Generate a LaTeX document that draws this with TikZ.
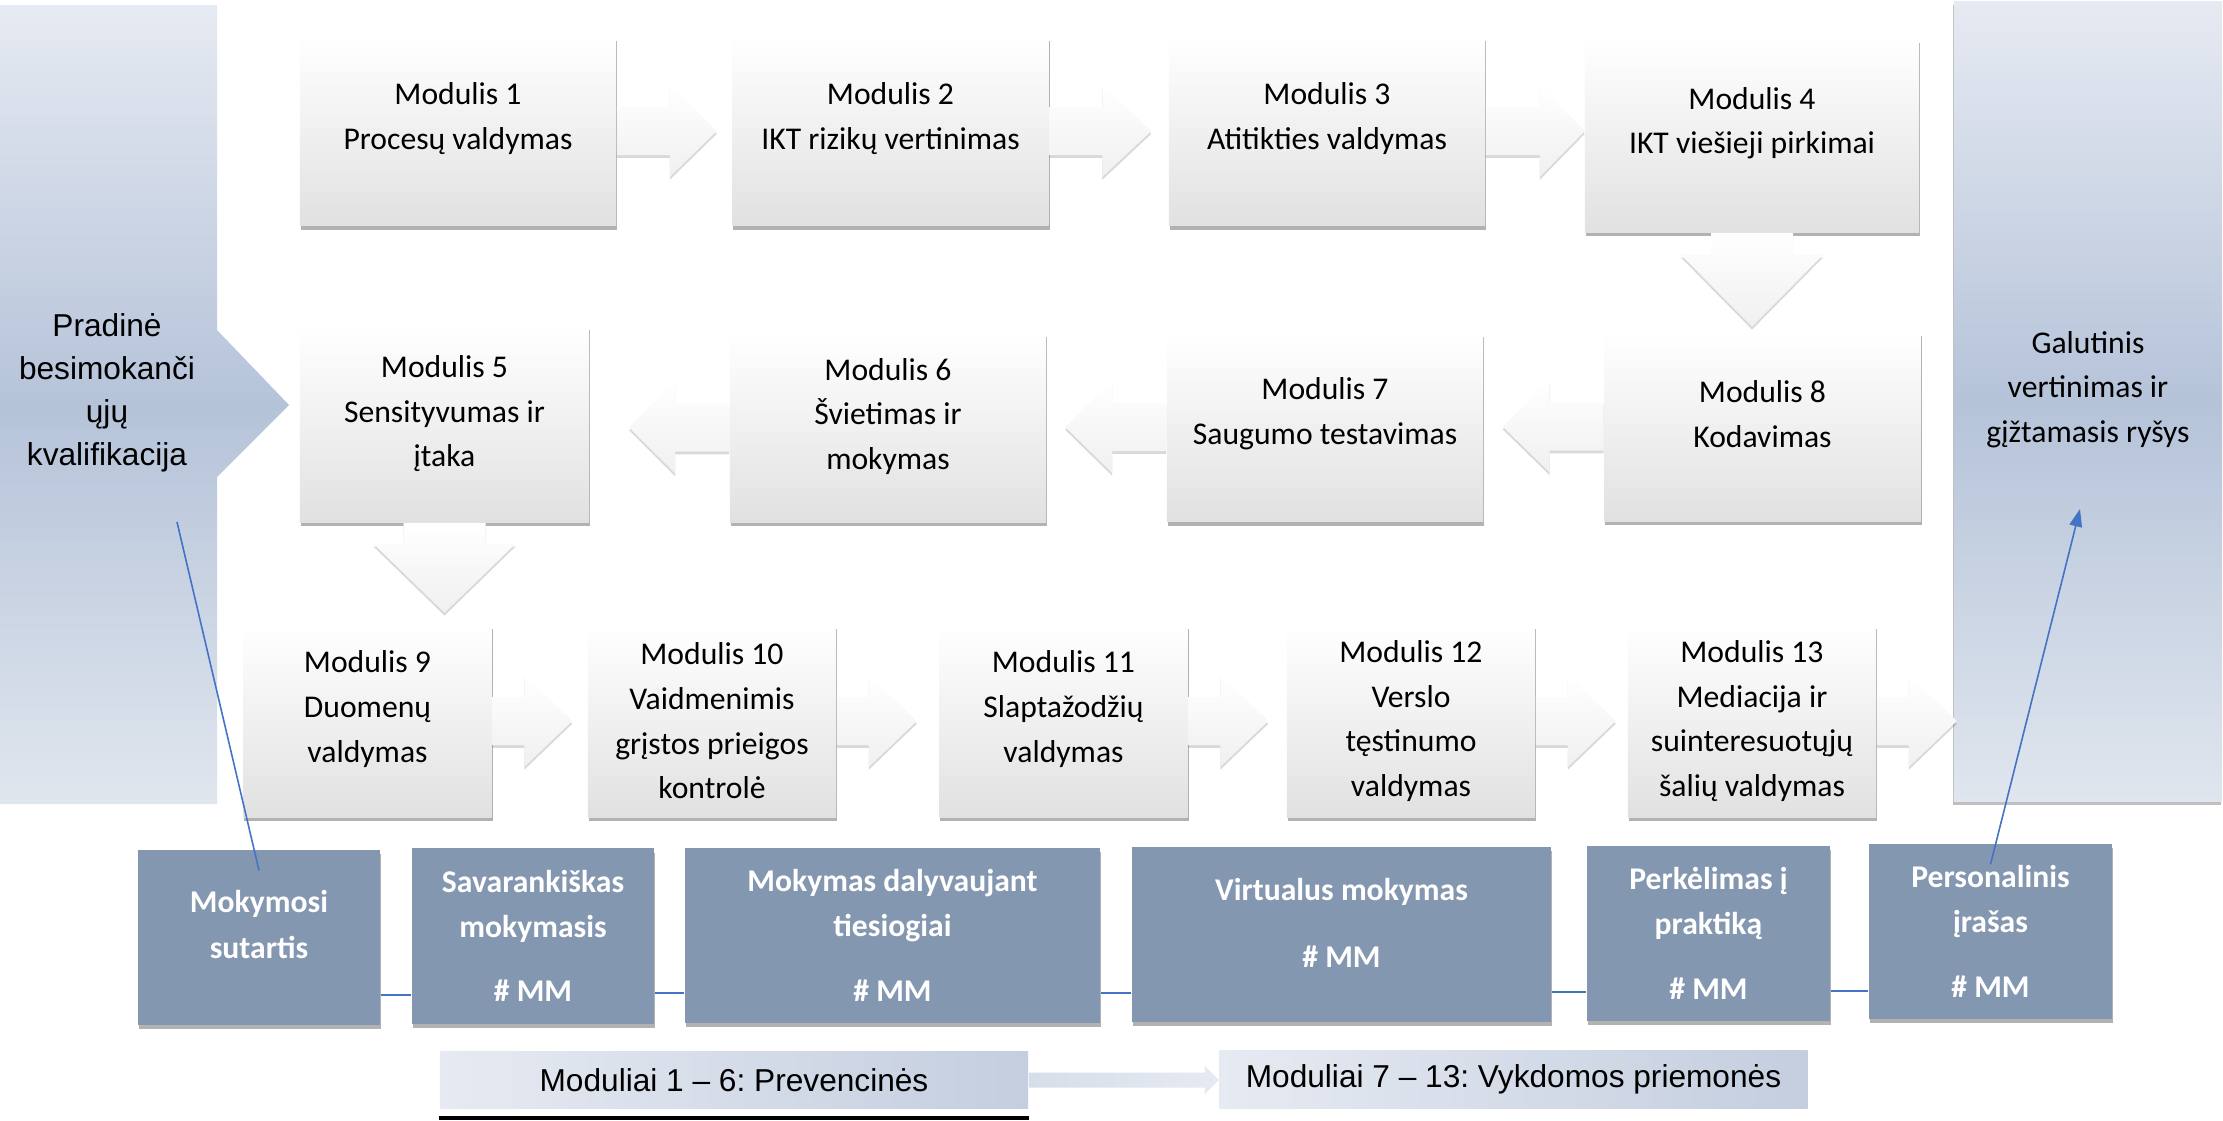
\documentclass[tikz,border=0pt]{standalone}
\usepackage{fontspec}
\setmainfont{Carlito}
\newfontfamily\arialfont{Liberation Sans}
\usetikzlibrary{calc}
\usetikzlibrary{shadows}
\usetikzlibrary{arrows.meta}
\frenchspacing

\definecolor{panelTop}{HTML}{E6EAF2}
\definecolor{panelMid}{HTML}{B5C3D9}
\definecolor{panelBot}{HTML}{E0E6EE}
\definecolor{legendRight}{HTML}{C4CEDF}
\definecolor{slate}{HTML}{8497B0}
\definecolor{wordblue}{HTML}{4472C4}
\definecolor{boxgray}{HTML}{E1E1E1}

\tikzset{
  modlabel/.style={align=center, font=\fontsize{9}{12.7}\selectfont},
  lowlabel/.style={align=center, text=white, font=\fontsize{9}{12.8}\selectfont\bfseries},
  modbox/.style 2 args={rectangle, inner sep=0pt, top color=white, bottom color=boxgray,
    drop shadow={shadow xshift=0.3pt, shadow yshift=-1.2pt, opacity=0.3, fill=black},
    minimum width=3.16cm, minimum height=1.89cm,
    label={[modlabel, yshift=#2]center:{#1}}},
  row3/.style={minimum width=2.48cm, minimum height=1.92cm},
  lowbox/.style 2 args={rectangle, inner sep=0pt, fill=slate,
    drop shadow={shadow xshift=0.3pt, shadow yshift=-1.2pt, opacity=0.3, fill=black},
    minimum width=2.42cm, minimum height=1.75cm,
    label={[lowlabel, yshift=#2]center:{#1}}},
  galbox/.style={rectangle, inner sep=0pt, top color=panelTop, bottom color=panelBot,
    middle color=panelMid,
    drop shadow={shadow xshift=-0.4pt, shadow yshift=-1pt, opacity=0.25, fill=black},
    minimum width=2.68cm, minimum height=7.99cm,
    label={[modlabel, yshift=3.4pt]center:{#1}}},
  legbox/.style={rectangle, inner sep=0pt, left color=panelTop, right color=legendRight,
    minimum width=5.88cm, minimum height=0.57cm,
    font=\arialfont\fontsize{9}{11}\selectfont},
  blockarrow/.style={top color=white, bottom color=black!6,
    drop shadow={shadow xshift=0pt, shadow yshift=-0.8pt, opacity=0.15, fill=black}},
  legarrow/.style={left color=panelMid!55!white, right color=panelTop},
  link/.style={wordblue, line width=0.45pt},
}

% block arrows: node, shaft length, head length
\newcommand{\arrowright}[3]{%
  \path[blockarrow] ($(#1.east)+(0,-24)$) -- ++(#2,0) -- ++(0,-22) -- ++(#3,46)
    -- ++(-#3,46) -- ++(0,-22) -- ++(-#2,0) -- cycle;}
\newcommand{\arrowleft}[3]{%
  \path[blockarrow] ($(#1.west)+(0,-24)$) -- ++(-#2,0) -- ++(0,-22) -- ++(-#3,46)
    -- ++(#3,46) -- ++(0,-22) -- ++(#2,0) -- cycle;}
\newcommand{\arrowdown}[3]{%
  \path[blockarrow] ($(#1.south)+(-41,0)$) -- ++(0,#2) -- ++(-30,0) -- ++(71,#3)
    -- ++(71,-#3) -- ++(-30,0) -- ++(0,-#2) -- cycle;}

\begin{document}
\begin{tikzpicture}[x=0.01cm, y=-0.01cm]
        \useasboundingbox[fill=white] (0,0) rectangle (2223,1120);

        % Side panels
        \shade[top color=panelTop, bottom color=panelBot, middle color=panelMid]
          (0,5) -- (217,5) -- (217,330) -- (289,405) -- (217,477) -- (217,804) -- (0,804) -- cycle;
        \node[align=center, font=\arialfont\fontsize{9}{12.2}\selectfont] (pini) at (107,393)
          {Pradinė\\besimokanči\\ųjų\\kvalifikacija};
        \node[galbox={Galutinis\\vertinimas ir\\gįžtamasis ryšys}] (gal) at (2088,401.5) {};

        % Modules, first row
        \node[modbox={Modulis 1\\Procesų valdymas}{3.5pt}] (m1) at (458,131) {};
        \node[modbox={Modulis 2\\IKT rizikų vertinimas}{3.5pt}] (m2) at (890.5,131) {};
        \node[modbox={Modulis 3\\Atitikties valdymas}{3.5pt}] (m3) at (1327,131) {};
        \node[modbox={Modulis 4\\IKT viešieji pirkimai}{3.5pt},
          minimum width=3.34cm, minimum height=1.93cm] (m4) at (1752,135.5) {};

        % Modules, second row
        \node[modbox={Modulis 5\\Sensityvumas ir\\įtaka}{2.9pt},
          minimum width=2.89cm, minimum height=1.96cm] (m5) at (444.5,424) {};
        \node[modbox={Modulis 6\\Švietimas ir\\mokymas}{3.2pt}] (m6) at (888,427.5) {};
        \node[modbox={Modulis 7\\Saugumo testavimas}{3.7pt}] (m7) at (1325,427) {};
        \node[modbox={Modulis 8\\Kodavimas}{3.5pt}] (m8) at (1762.5,426.5) {};

        % Modules, third row
        \node[modbox={Modulis 9\\Duomenų\\valdymas}{3.4pt}, row3] (m9) at (367.5,721) {};
        \node[modbox={Modulis 10\\Vaidmenimis\\grįstos prieigos\\kontrolė}{0pt}, row3] (m10) at (712,721) {};
        \node[modbox={Modulis 11\\Slaptažodžių\\valdymas}{3.4pt}, row3] (m11) at (1063.5,721) {};
        \node[modbox={Modulis 12\\Verslo\\tęstinumo\\valdymas}{0pt}, row3] (m12) at (1411,721) {};
        \node[modbox={Modulis 13\\Mediacija ir\\suinteresuotųjų\\šalių valdymas}{0pt}, row3] (m13) at (1752,721) {};

        % Arrows between modules
        \arrowright{m1}{53}{47}
        \arrowright{m2}{53}{49}
        \arrowright{m3}{54}{45}
        \arrowdown{m4}{22}{72}
        \arrowleft{m8}{54}{47}
        \arrowleft{m7}{54}{47}
        \arrowleft{m6}{54}{46}
        \arrowdown{m5}{21}{69}
        \foreach \m in {m9,m10,m11,m12,m13}
          \arrowright{\m}{32}{48};

        % Learning forms
        \node[lowbox={Mokymosi\\sutartis}{3.7pt}] (b1) at (259,937.5) {};
        \node[lowbox={Savarankiškas\\mokymasis\\[5.5pt]\# MM}{0pt}] (b2) at (533,936) {};
        \node[lowbox={Mokymas dalyvaujant\\tiesiogiai\\[5.5pt]\# MM}{0pt},
          minimum width=4.15cm] (b3) at (892.5,935.5) {};
        \node[lowbox={Virtualus mokymas\\[6pt]\# MM}{3.3pt},
          minimum width=4.19cm] (b4) at (1341.5,934.5) {};
        \node[lowbox={Perkėlimas į\\praktiką\\[5.5pt]\# MM}{0pt}, minimum width=2.43cm] (b5) at (1708.5,933.5) {};
        \node[lowbox={Personalinis\\įrašas\\[5.5pt]\# MM}{0pt}, minimum width=2.43cm] (b6) at (1990.5,931.5) {};
        \foreach \a/\b in {b1/b2,b2/b3,b3/b4,b4/b5,b5/b6}
          \draw[link] ($(\a.south east)+(0,-31)$) coordinate (lp) -- (lp -| \b.west);

        % Legend
        \node[legbox] (lg1) at (734,1080) {Moduliai 1 – 6: Prevencinės};
        \node[legbox, minimum height=0.58cm] (lg2) at (1513.5,1079) {Moduliai 7 – 13: Vykdomos priemonės};
        \draw[line width=1.1pt] ([yshift=-2.6pt]lg1.south west) -- ([yshift=-2.6pt]lg1.south east);
        \path[legarrow] ($(lg1.east)+(0,-7.5)$) -- ++(176,0) -- ++(0,-6.5) -- ++(14,14)
          -- ++(-14,14) -- ++(0,-6.5) -- ++(-176,0) -- cycle;

        % Thin blue links
        \coordinate (pstart) at (177,522);
        \coordinate (gtip) at (2080,509);
        \draw[link] (pstart) -- ([yshift=-6pt]b1.north);
        \draw[link, -{Triangle[length=5pt, width=3.6pt]}] ([yshift=-6pt]b6.north) -- (gtip);
\end{tikzpicture}
\end{document}
